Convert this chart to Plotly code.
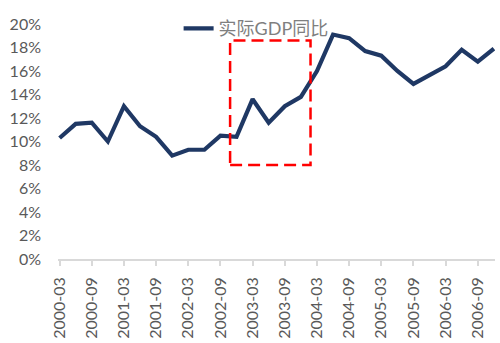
import plotly.graph_objects as go

quarters = [f"{y}-{m}" for y in range(2000, 2007) for m in ("03", "06", "09", "12")]
gdp_yoy = [10.3, 11.5, 11.6, 10.0, 13.0, 11.3, 10.4, 8.8, 9.3, 9.3, 10.5, 10.4,
           13.6, 11.6, 13.0, 13.8, 16.0, 19.1, 18.8, 17.7, 17.3, 16.0, 14.9, 15.7,
           16.4, 17.8, 16.8, 17.9]
tick_labels = quarters[::2]
y_ticks = list(range(0, 21, 2))
series_name = "实际GDP同比"

# highlighted window (category index range and value range)
box_x0, box_x1 = 10.6, 15.6
box_y0, box_y1 = 8.0, 18.6

fig = go.Figure()
fig.add_trace(go.Scatter(
    x=quarters, y=gdp_yoy, mode="lines", name=series_name,
    line=dict(color="#1F3864", width=4.2),
))
fig.add_shape(type="rect", xref="x", yref="y",
              x0=box_x0, x1=box_x1, y0=box_y0, y1=box_y1,
              line=dict(color="#FF0000", width=2.5, dash="12px,6px"))

font_fam = "Lato, 'Noto Sans CJK SC', sans-serif"
fig.update_layout(
    width=500, height=343,
    margin=dict(l=58, r=5, t=24, b=84),
    paper_bgcolor="white", plot_bgcolor="white",
    font=dict(family=font_fam, color="#595959", size=16),
    showlegend=True,
    legend=dict(x=0.276, y=0.98, xanchor="left", yanchor="middle",
                bgcolor="rgba(0,0,0,0)", font=dict(size=18, color="#7F7F7F"),
                orientation="h"),
)
fig.update_xaxes(
    type="category", categoryorder="array", categoryarray=quarters,
    range=[-0.1, 27.07],
    tickvals=tick_labels, ticktext=tick_labels, tickangle=-90,
    showline=True, linecolor="#D9D9D9", linewidth=1.5,
    ticks="outside", ticklen=5, tickcolor="#D9D9D9", tickwidth=1.5,
    showgrid=False, zeroline=False, ticklabelstandoff=5,
)
fig.update_yaxes(
    range=[0, 20], tickvals=y_ticks, ticktext=[f"{v}%" for v in y_ticks],
    showgrid=False, zeroline=False, showline=False, ticks="",
    ticklabelstandoff=16,
)
fig.write_html("out.html")
